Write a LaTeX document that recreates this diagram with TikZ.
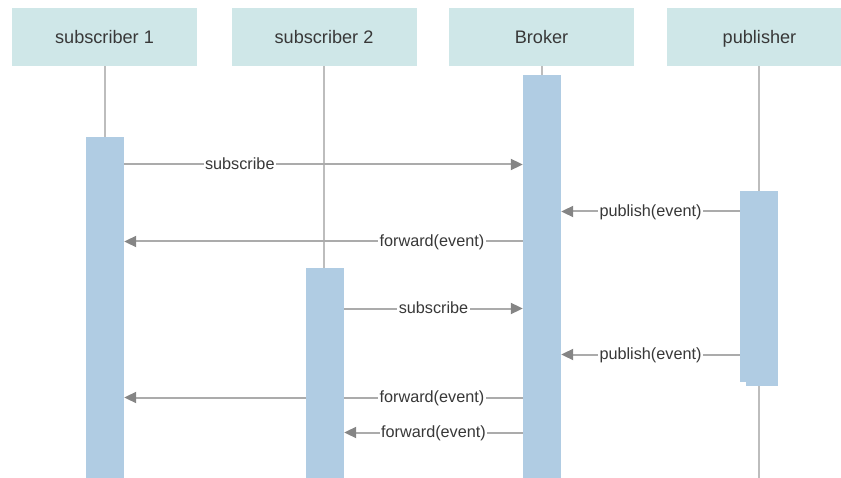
\documentclass[tikz,border=0pt]{standalone}
\usepackage{fontspec}
\setmainfont{Liberation Sans}
\usetikzlibrary{arrows.meta}
\definecolor{headfill}{HTML}{CFE7E8}
\definecolor{barfill}{HTML}{B0CCE3}
\definecolor{lifegray}{HTML}{BDBDBD}
\definecolor{msggray}{HTML}{ABABAB}
\definecolor{tipgray}{HTML}{858585}
\definecolor{txt}{HTML}{383838}
\pgfdeclarelayer{back}
\pgfdeclarelayer{mid}
\pgfsetlayers{back,mid,main}
\begin{document}
\begin{tikzpicture}[x=1bp,y=-1bp,
  head/.style={fill=headfill,draw=none,minimum width=185bp,minimum height=58bp,
    inner sep=0pt,text height=17bp,text depth=3bp,text=txt,
    font=\fontsize{18.2}{20}\selectfont},
  bar/.style={fill=barfill,draw=none,minimum width=38bp,inner sep=0pt,anchor=north},
  life/.style={draw=lifegray,line width=2bp},
  msg/.style={draw=msggray,line width=2bp,
    -{Triangle[length=12bp,width=11bp,fill=tipgray,color=tipgray]}},
  lbl/.style={fill=white,inner sep=1.5bp,text height=12bp,text depth=2bp,
    text=txt,font=\fontsize{16.3}{18}\selectfont}]
\useasboundingbox (0,0) rectangle (841,478);
\clip (0,0) rectangle (841,478);

% participants
\node[head] (h1) at (104.5,37) {subscriber 1};
\node[head] (h2) at (324,37) {subscriber 2};
\node[head] (hb) at (541.5,37) {Broker};
\node[head] (hp) at (759.5,37) {publisher};

% bottom ends of lifelines
\coordinate (e1) at (105,480);
\coordinate (e2) at (324,480);
\coordinate (eb) at (542,480);
\coordinate (ep) at (759,480);

% activation bars
\node[bar,minimum height=345bp] (b1) at (105,137) {};
\node[bar,minimum height=215bp] (b2) at (325,268) {};
\node[bar,minimum height=410bp] (bb) at (542,75) {};
\node[bar,minimum height=191bp] (bp) at (759,191) {};
\node[bar,minimum width=32bp,minimum height=195bp] (bp2) at (762,191) {};

% lifelines
\begin{pgfonlayer}{back}
\draw[life] (h1.south -| e1) -- (e1);
\draw[life] (h2.south -| e2) -- (e2);
\draw[life] (hb.south -| eb) -- (eb);
\draw[life] (hp.south -| ep) -- (ep);
\end{pgfonlayer}

% messages
\begin{pgfonlayer}{mid}
\draw[msg] (b1.east |- 0,164.5) -- node[lbl,pos=0.29] {subscribe} (bb.west |- 0,164.5);
\draw[msg] (bp.west |- 0,211.5) -- node[lbl,pos=0.5] {publish(event)} (bb.east |- 0,211.5);
\draw[msg] (bb.west |- 0,241.5) -- node[lbl,pos=0.228] {forward(event)} (b1.east |- 0,241.5);
\draw[msg] (b2.east |- 0,308.5) -- node[lbl,pos=0.5] {subscribe} (bb.west |- 0,308.5);
\draw[msg] (bp.west |- 0,354.5) -- node[lbl,pos=0.5] {publish(event)} (bb.east |- 0,354.5);
\draw[msg] (bb.west |- 0,397.5) -- node[lbl,pos=0.228] {forward(event)} (b1.east |- 0,397.5);
\draw[msg] (bb.west |- 0,432.5) -- node[lbl,pos=0.5] {forward(event)} (b2.east |- 0,432.5);
\end{pgfonlayer}
\end{tikzpicture}
\end{document}
